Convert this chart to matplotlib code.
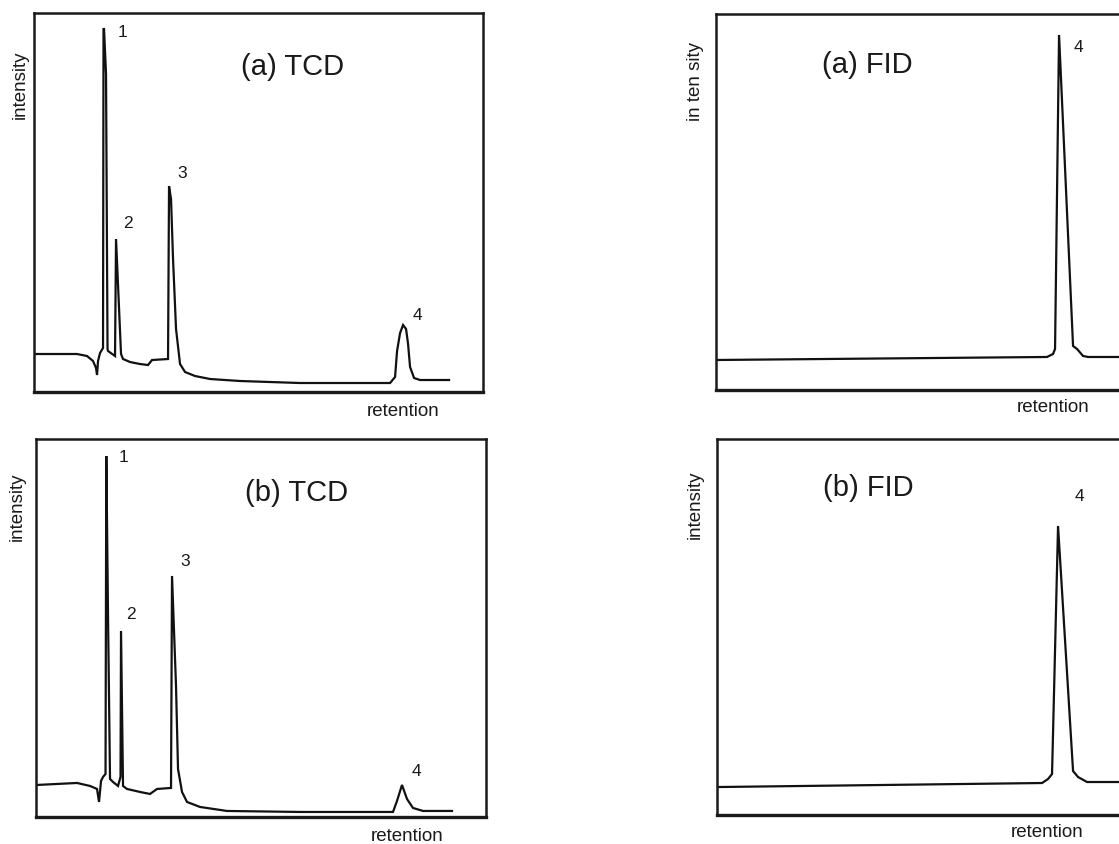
import matplotlib
matplotlib.use("Agg")
import matplotlib.pyplot as plt

plt.rcParams['font.family'] = ['Liberation Sans', 'DejaVu Sans']

# chromatogram traces (arbitrary retention / intensity units)
tcd_a_ret = [2, 43, 53, 59, 62, 63, 64, 66, 69, 69.5, 70, 72, 73.5, 74, 81, 82, 87, 89, 96,
             106, 114, 118, 134, 135, 137, 139, 142, 146, 151, 161, 176, 206, 266, 356, 361,
             363, 366, 369, 372, 374, 376, 380, 386, 415]
tcd_a_int = [38, 38, 36, 31, 24, 17, 31, 39, 44, 363, 363, 318, 43, 41, 36, 153, 38, 33, 30,
             28, 27, 32, 33, 206, 193, 133, 63, 28, 20, 16, 13, 11, 9, 9, 15,
             41, 59, 67, 63, 48, 25, 14, 12, 12]

tcd_b_ret = [1, 41, 54, 61, 63, 65, 67, 69.5, 70.3, 72, 74, 77, 82, 84.5, 85, 87, 91, 104, 114,
             121, 135, 136, 140, 142, 146, 151, 164, 191, 264, 357, 361, 366, 371, 377, 387, 416]
tcd_b_int = [32, 34, 31, 28, 15, 36, 40, 43, 361, 200, 38, 35, 31, 40, 186, 31, 28, 25, 23,
             28, 29, 241, 131, 48, 25, 15, 10, 6, 5, 5, 16, 32, 18, 9, 6, 6]

fid_a_ret = [1, 331, 337, 339, 343, 357, 361, 367, 372, 409]
fid_a_int = [30, 33, 36, 41, 355, 44, 41, 34, 33, 33]

fid_b_ret = [2, 325, 331, 335, 341, 356, 361, 370, 408]
fid_b_int = [28, 32, 36, 41, 289, 44, 38, 33, 33]

tcd_a_peaks = ["1", "2", "3", "4"]
tcd_a_peak_ret = [88, 94, 148, 383]
tcd_a_peak_int = [361, 170, 220, 78]
tcd_b_peaks = ["1", "2", "3", "4"]
tcd_b_peak_ret = [87, 95, 149, 380]
tcd_b_peak_int = [360, 203, 256, 46]

fig = plt.figure(figsize=(11.19, 8.45), dpi=100)

panels = [
    # rect, ret, int, xlim, ylim, title, title pos, peaks, ylabel, ylabel pos, xlabel pos
    ([0.0304, 0.5349, 0.4013, 0.4485], tcd_a_ret, tcd_a_int, 449, 379, "(a) TCD", (259, 326),
     (tcd_a_peaks, tcd_a_peak_ret, tcd_a_peak_int), "intensity", (-0.031, 0.813), (0.822, -0.05)),
    ([0.0322, 0.0320, 0.4021, 0.4473], tcd_b_ret, tcd_b_int, 450, 378, "(b) TCD", (261, 325),
     (tcd_b_peaks, tcd_b_peak_ret, tcd_b_peak_int), "intensity", (-0.042, 0.823), (0.824, -0.05)),
    ([0.6399, 0.5373, 0.3655, 0.4450], fid_a_ret, fid_a_int, 409, 376, "(a) FID", (151, 326),
     (["4"], [362], [343]), "in ten sity", (-0.051, 0.822), (0.824, -0.045)),
    ([0.6408, 0.0343, 0.3646, 0.4450], fid_b_ret, fid_b_int, 408, 376, "(b) FID", (151, 328),
     (["4"], [362], [319]), "intensity", (-0.054, 0.827), (0.809, -0.045)),
]

for rect, ret, inten, xmax, ymax, title, tpos, peaks, ylab, ylpos, xlpos in panels:
    ax = fig.add_axes(rect)
    ax.plot(ret, inten, color='#111111', lw=1.6, solid_joinstyle='miter')
    ax.set_xlim(0, xmax)
    ax.set_ylim(0, ymax)
    ax.set_xticks([])
    ax.set_yticks([])
    for s in ax.spines.values():
        s.set_linewidth(1.8)
        s.set_color('#1a1a1a')
    ax.spines['bottom'].set_linewidth(2.4)
    ax.text(tpos[0], tpos[1], title, fontsize=21, ha='center', va='center', color='#1a1a1a')
    for lab, px, py in zip(*peaks):
        ax.text(px, py, lab, fontsize=12.5, ha='center', va='center', color='#1a1a1a')
    ax.text(ylpos[0], ylpos[1], ylab, transform=ax.transAxes, rotation=90,
            fontsize=13.5, ha='center', va='center', color='#1a1a1a')
    ax.text(xlpos[0], xlpos[1], "retention", transform=ax.transAxes,
            fontsize=13.5, ha='center', va='center', color='#1a1a1a')

plt.savefig("out.png", dpi=100)
